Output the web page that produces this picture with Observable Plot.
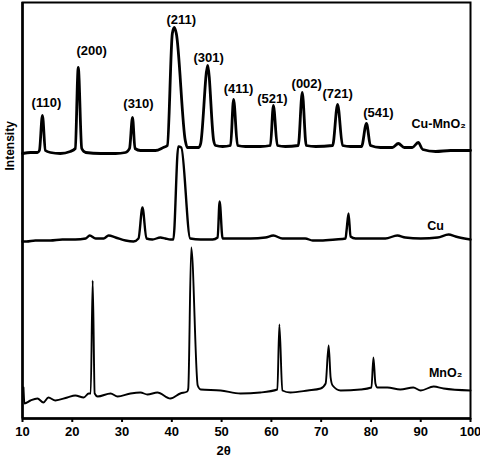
<!DOCTYPE html>
<html><head><meta charset="utf-8">
<script src="https://cdn.jsdelivr.net/npm/d3@7"></script>
<script src="https://cdn.jsdelivr.net/npm/@observablehq/plot@0.6"></script>
<style>body{margin:0;background:#fff}</style>
</head><body><div id="chart"></div>
<script>
// 2θ (degrees), intensity (arbitrary units, stacked offsets as in the figure)
const cuMnO2 = [
  [10.0,265],[11.6,266],[13.0,266],[13.4,268],[14.0,303],[14.6,268],[15.6,266],[17.6,265],
  [19.6,267],[20.6,270],[21.2,351],[21.9,270],[22.7,266],[25.7,265],[28.7,265],[30.7,266],
  [31.5,270],[32.1,301],[32.6,270],[33.7,268],[36.7,268],[38.3,271],[39.1,273],[40.1,385],
  [40.5,391],[40.9,385],[42.7,278],[43.1,271],[45.4,271],[45.8,275],[47.2,353],[48.4,278],
  [48.8,273],[50.2,272],[51.8,273],[52.4,319],[53.2,273],[54.8,272],[57.8,272],[59.8,273],
  [60.4,313],[61.2,273],[62.8,272],[65.4,273],[66.2,326],[67.0,273],[68.9,272],[72.3,273],
  [73.3,314],[74.3,273],[75.9,272],[78.1,272],[79.1,295],[79.9,273],[81.9,271],[84.3,271],
  [85.5,275],[86.7,271],[88.3,271],[89.5,276],[90.4,269],[93.0,267],[96.0,268],[100,268]
];
const cu = [
  [10.0,177],[10.8,177],[12.6,178],[15.6,178],[18.0,179],[20.6,179],[22.7,180],[23.5,183],
  [24.7,180],[26.3,180],[27.3,183],[28.7,181],[30.7,178],[32.3,177],[33.3,180],[34.1,211],
  [34.9,180],[36.1,179],[37.7,181],[38.7,180],[39.7,179],[40.3,179],[41.3,272],[41.9,271],
  [43.7,180],[45.8,179],[48.2,179],[49.2,181],[49.6,217],[50.2,180],[52.2,180],[55.8,180],
  [58.8,181],[60.4,183],[62.2,180],[64.8,180],[66.8,180],[68.3,178],[69.9,178],[72.9,179],
  [74.9,180],[75.1,188],[75.5,205],[75.9,182],[76.9,180],[79.9,180],[82.9,180],[85.3,183],
  [86.9,181],[90.0,180],[93.4,181],[95.6,184],[97.0,182],[100,179]
];
const mno2 = [
  [10.2,31],[10.4,15],[11.6,18],[13.0,20],[14.2,16],[15.2,21],[16.6,18],[19.0,21],
  [20.6,23],[22.3,21],[23.3,25],[23.7,25],[24.1,138],[24.5,25],[25.1,22],[27.7,25],
  [29.1,22],[31.7,25],[33.7,26],[35.1,24],[37.1,26],[39.7,20],[41.7,25],[43.1,27],
  [43.3,30],[43.9,171],[45.2,33],[45.8,29],[49.8,28],[53.8,25],[57.8,26],[61.2,29],
  [61.6,94],[62.2,28],[63.8,26],[67.3,28],[69.9,30],[70.9,35],[71.5,73],[71.9,41],
  [72.3,33],[73.9,28],[77.9,29],[80.1,31],[80.5,61],[80.9,35],[81.3,31],[83.3,31],
  [85.9,29],[88.5,31],[90.0,28],[92.6,32],[94.6,30],[100,28]
];
const peakLabels = ["(110)","(200)","(310)","(211)","(301)","(411)","(521)","(002)","(721)","(541)"];
const peakLabelX = [14.8,23.9,33.3,41.9,47.4,53.4,60.2,67.1,73.3,81.5];
const peakLabelY = [316,368,315,399,361,330,320,335,325,306];
const seriesNames = ["Cu-MnO₂","Cu","MnO₂"];
const seriesLabelX = [93.6,93.0,95.0];
const seriesLabelY = [295,193,46];
const xTicks = [10,20,30,40,50,60,70,80,90,100];

const rows = (arr) => arr.map(([t, v]) => ({t, v}));

const chart = Plot.plot({
  width: 480, height: 460,
  marginLeft: 22, marginRight: 10, marginTop: 2, marginBottom: 42,
  x: {domain: [10, 100]},
  y: {domain: [0, 416], axis: null},
  style: {fontFamily: "'Liberation Sans', Arial, sans-serif", fontSize: "13px", fontWeight: "bold", color: "black", background: "white"},
  marks: [
    Plot.frame({stroke: "black", strokeWidth: 2}),
    Plot.ruleX([10], {stroke: "black", strokeWidth: 2.5}),
    Plot.ruleY([0], {stroke: "black", strokeWidth: 2.5}),
    Plot.axisX({ticks: xTicks, tickSize: 4, tickPadding: 4, label: null, strokeWidth: 2, fontSize: 13, fontWeight: "bold"}),
    Plot.line(rows(cuMnO2), {x: "t", y: "v", stroke: "black", strokeWidth: 2.8, curve: "monotone-x"}),
    Plot.line(rows(cu), {x: "t", y: "v", stroke: "black", strokeWidth: 2.4, curve: "monotone-x"}),
    Plot.line(rows(mno2), {x: "t", y: "v", stroke: "black", strokeWidth: 1.9, curve: "monotone-x"}),
    Plot.text(peakLabels, {x: (d, i) => peakLabelX[i], y: (d, i) => peakLabelY[i], text: d => d, fontSize: 13, fill: "black"}),
    Plot.text(seriesNames, {x: (d, i) => seriesLabelX[i], y: (d, i) => seriesLabelY[i], text: d => d, fontSize: 12.5, fill: "black"}),
    Plot.text(["2θ"], {x: () => 50.4, frameAnchor: "bottom", lineAnchor: "middle", dy: 32, text: d => d, fontSize: 13, fill: "black"}),
    Plot.text(["Intensity"], {y: () => 248, frameAnchor: "left", dx: -12, rotate: -90, text: d => d, fontSize: 12, fill: "black"})
  ]
});
document.getElementById("chart").appendChild(chart);
</script>
</body></html>
